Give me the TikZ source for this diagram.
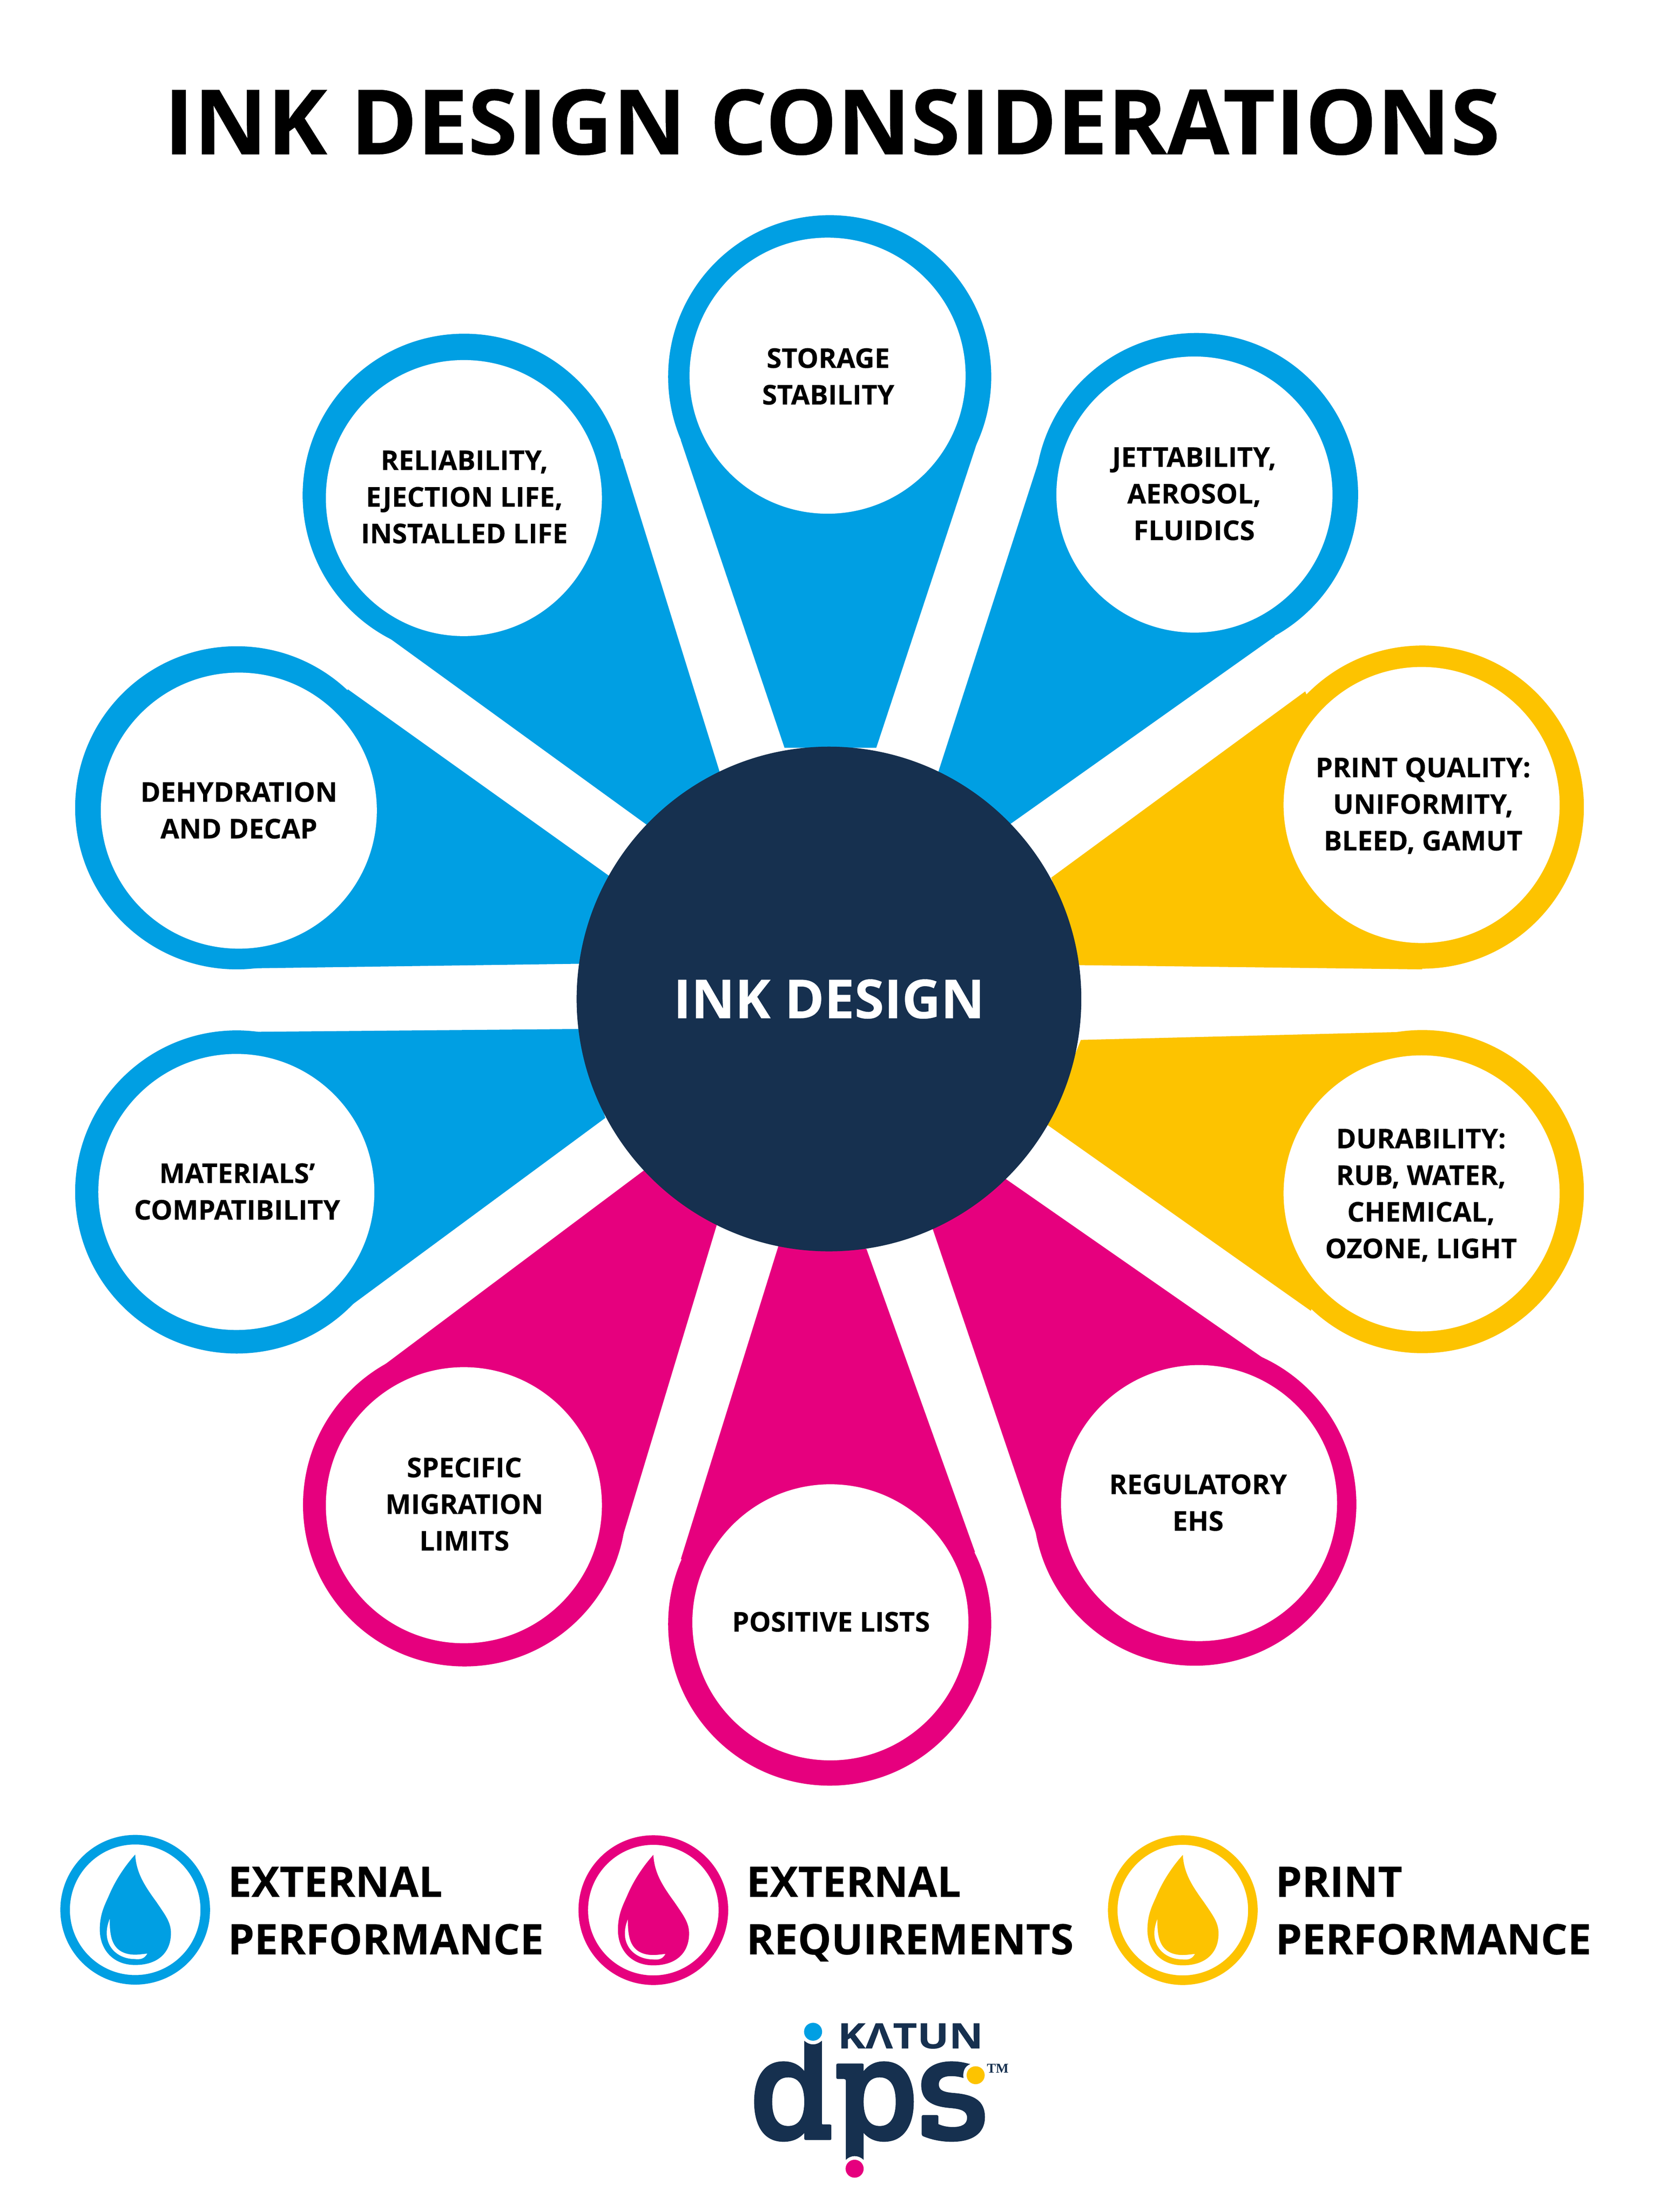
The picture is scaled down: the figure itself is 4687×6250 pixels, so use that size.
\documentclass[tikz,border=0pt]{standalone}
\usepackage{fontspec}
\setmainfont{Open Sans}[BoldFont=* Bold,BoldFeatures={FakeBold=0.25}]
\newfontfamily\tmfont{Liberation Serif}
\definecolor{cblue}{HTML}{009FE3}
\definecolor{cmag}{HTML}{E6007E}
\definecolor{cyel}{HTML}{FDC300}
\definecolor{navy}{HTML}{16304F}
\tikzset{
  x=0.1pt,y=-0.1pt,
  whitedisc/.style={circle,fill=white,draw=none,minimum size=780*0.1pt,inner sep=0pt},
  lbl/.style={anchor=base,inner sep=0pt,align=center,font=\fontsize{7.7}{10.35}\selectfont\bfseries},
  legendtext/.style={anchor=base west,align=left,inner sep=0pt,font=\fontsize{11.9}{16.25}\selectfont\bfseries},
}
% \petal{colour}{ox}{oy}{a}{b}{c}{d}
\newcommand{\petal}[7]{%
  \fill[#1] (#2,#3) circle[radius=458];
  \fill[#1] #4 -- #5 -- #6 -- #7 -- cycle;
}
\newcommand{\drop}[3]{% colour, cx, cy
  \begin{scope}[shift={(#2,#3)}]
    \draw[#1,line width=2.7pt] (0,0) circle[radius=198];
    \fill[#1] (0,-156) .. controls (3,-105) and (25,-70) .. (60,-22)
       .. controls (85,15) and (101,35) .. (101,66)
       .. controls (101,120) and (65,156) .. (0,156)
       .. controls (-65,156) and (-100,110) .. (-100,56)
       .. controls (-100,10) and (-85,-15) .. (-73,-43)
       .. controls (-55,-85) and (-28,-125) .. (0,-156) -- cycle;
    \fill[white] (-72,26) .. controls (-72,70) and (-70,125) .. (-2,127)
       .. controls (12,127) and (20,125) .. (34,124)
       .. controls (22,145) and (5,139) .. (-8,139)
       .. controls (-60,135) and (-98,90) .. (-72,26) -- cycle;
  \end{scope}
}
\begin{document}
\begin{tikzpicture}
\useasboundingbox[fill=white] (0,0) rectangle (4687,6250);
\node[inner sep=0pt,anchor=center,font=\fontsize{25.5}{30}\selectfont\bfseries] (title) at (2351,345) {INK DESIGN CONSIDERATIONS};

\begin{scope}[scale=0.9967]
% petals
\petal{cblue}{2352}{1068}{(1930,1248)}{(2224,2120)}{(2484,2120)}{(2772,1248)}
\petal{cblue}{3392}{1402}{(2943,1312)}{(2660,2188)}{(2864,2336)}{(3614,1804)}
\petal{cyel}{4032}{2288}{(3700,1960)}{(2980,2488)}{(3060,2736)}{(4032,2748)}
\petal{cyel}{4032}{3378}{(4032,2924)}{(3064,2948)}{(2968,3188)}{(3716,3716)}
\petal{cmag}{3387}{4264}{(3591,3857)}{(2848,3340)}{(2640,3472)}{(2944,4368)}
\petal{cmag}{2352}{4604}{(1930,4420)}{(2208,3528)}{(2456,3540)}{(2764,4400)}
\petal{cmag}{1317}{4266}{(1091,3868)}{(1828,3316)}{(2032,3472)}{(1766,4353)}
\petal{cblue}{671}{3379}{(733,2925)}{(1640,2917)}{(1716,3169)}{(995,3701)}
\petal{cblue}{671}{2290}{(986,1954)}{(1728,2484)}{(1648,2732)}{(717,2745)}
\petal{cblue}{1316}{1404}{(1764,1300)}{(2040,2188)}{(1836,2340)}{(1097,1804)}

% white discs
\node[whitedisc] (d1) at (2346,1065) {};
\node[whitedisc] (d2) at (3386,1402) {};
\node[whitedisc] (d3) at (4030,2282) {};
\node[whitedisc] (d4) at (4030,3383) {};
\node[whitedisc] (d5) at (3399,4261) {};
\node[whitedisc] (d6) at (2354,4599) {};
\node[whitedisc] (d7) at (1315,4267) {};
\node[whitedisc] (d8) at (670,3379) {};
\node[whitedisc] (d9) at (677,2298) {};
\node[whitedisc] (d10) at (1315,1412) {};

\node[circle,fill=navy,minimum size=1426*0.1pt,inner sep=0pt,text=white,font=\fontsize{15.2}{20}\selectfont\bfseries] (hub) at (2350,2832) {INK DESIGN};
\end{scope}

% labels (y = baseline of the last line)
\node[lbl] (n1) at (2340,1143) {STORAGE\\STABILITY};
\node[lbl] (n2) at (3374,1526) {JETTABILITY,\\AEROSOL,\\FLUIDICS};
\node[lbl] (n3) at (4021,2403) {PRINT QUALITY:\\UNIFORMITY,\\BLEED, GAMUT};
\node[lbl] (n4) at (4015,3555) {DURABILITY:\\RUB, WATER,\\CHEMICAL,\\OZONE, LIGHT};
\node[lbl] (n5) at (3385,4325) {REGULATORY\\EHS};
\node[lbl] (n6) at (2348,4610) {POSITIVE LISTS};
\node[lbl] (n7) at (1312,4381) {SPECIFIC\\MIGRATION\\LIMITS};
\node[lbl] (n8) at (670,3446) {MATERIALS’\\COMPATIBILITY};
\node[lbl] (n9) at (675,2369) {DEHYDRATION\\AND DECAP};
\node[lbl] (n10) at (1312,1535) {RELIABILITY,\\EJECTION LIFE,\\INSTALLED LIFE};

% legend
\drop{cblue}{382}{5396}
\drop{cmag}{1846}{5397}
\drop{cyel}{3342}{5397}
\node[legendtext] (l1) at (642,5522) {EXTERNAL\\PERFORMANCE};
\node[legendtext] (l2) at (2107,5522) {EXTERNAL\\REQUIREMENTS};
\node[legendtext] (l3) at (3602,5522) {PRINT\\PERFORMANCE};

% logo
\begin{scope}[shift={(2000,5650)},xscale=.638,yscale=.357]
  \fill[cblue] (466,254) ellipse[x radius=40,y radius=71];
  \fill[cyel] (1186,598) ellipse[x radius=40,y radius=71];
  \fill[cmag] (650,1338) ellipse[x radius=40,y radius=71];
  \fill[navy,even odd rule]
    (427,325) .. controls (440,345) and (452,354) .. (466,354) .. controls (480,354) and (492,345) .. (505,325)
    -- (505,980) .. controls (505,987) and (508,988) .. (512,988) -- (540,988) .. controls (545,988) and (547,990) .. (547,996)
    -- (547,1100) .. controls (547,1108) and (545,1111) .. (540,1111) -- (435,1111) .. controls (430,1111) and (427,1108) .. (427,1100)
    -- (427,1055) .. controls (405,1100) and (375,1125) .. (335,1125)
    .. controls (245,1125) and (205,990) .. (205,808)
    .. controls (205,625) and (245,488) .. (335,488)
    .. controls (375,488) and (405,515) .. (427,565) -- cycle
    (356,615) .. controls (310,615) and (285,680) .. (285,808) .. controls (285,935) and (310,1000) .. (356,1000)
    .. controls (402,1000) and (427,935) .. (427,808) .. controls (427,680) and (402,615) .. (356,615) -- cycle;
  \fill[navy,even odd rule]
    (577,505) -- (682,505) .. controls (688,505) and (690,509) .. (690,515) -- (690,565)
    .. controls (712,515) and (742,488) .. (780,488)
    .. controls (870,488) and (912,625) .. (912,808)
    .. controls (912,990) and (870,1125) .. (780,1125)
    .. controls (742,1125) and (712,1100) .. (690,1055) -- (690,1268)
    .. controls (678,1248) and (665,1238) .. (650,1238) .. controls (636,1238) and (623,1248) .. (611,1268)
    -- (611,640) .. controls (611,632) and (608,628) .. (603,628) -- (577,628) .. controls (572,628) and (569,625) .. (569,618)
    -- (569,515) .. controls (569,509) and (572,505) .. (577,505) -- cycle
    (761,615) .. controls (715,615) and (690,680) .. (690,808) .. controls (690,935) and (715,1000) .. (761,1000)
    .. controls (807,1000) and (832,935) .. (832,808) .. controls (832,680) and (807,615) .. (761,615) -- cycle;
  \fill[navy]
    (1162,510) .. controls (1140,525) and (1128,560) .. (1132,620)
    .. controls (1115,610) and (1095,605) .. (1078,605)
    .. controls (1040,605) and (1023,630) .. (1023,670)
    .. controls (1023,715) and (1040,730) .. (1085,738)
    .. controls (1180,750) and (1227,800) .. (1227,930)
    .. controls (1227,1060) and (1170,1125) .. (1080,1125)
    .. controls (1030,1125) and (985,1105) .. (952,1080)
    .. controls (948,1075) and (947,1070) .. (947,1062)
    -- (947,925) .. controls (947,917) and (950,913) .. (955,913) -- (1012,913) .. controls (1018,913) and (1021,917) .. (1021,925)
    -- (1021,985) .. controls (1040,1000) and (1060,1008) .. (1085,1008)
    .. controls (1125,1008) and (1148,985) .. (1148,935)
    .. controls (1148,880) and (1120,865) .. (1075,858)
    .. controls (985,845) and (945,790) .. (945,675)
    .. controls (945,555) and (1000,488) .. (1080,488)
    .. controls (1110,488) and (1135,497) .. (1162,510) -- cycle;
  \node[inner sep=0pt,text=navy,font=\fontsize{9.9}{10}\selectfont\bfseries] (katun) at (897,288) {\scalebox{1.2}[1]{KΛTUN}};
  \node[inner sep=0pt,text=navy,font=\fontsize{3.8}{4}\selectfont\tmfont\bfseries] (tm) at (1284,543) {TM};
\end{scope}
\end{tikzpicture}
\end{document}
